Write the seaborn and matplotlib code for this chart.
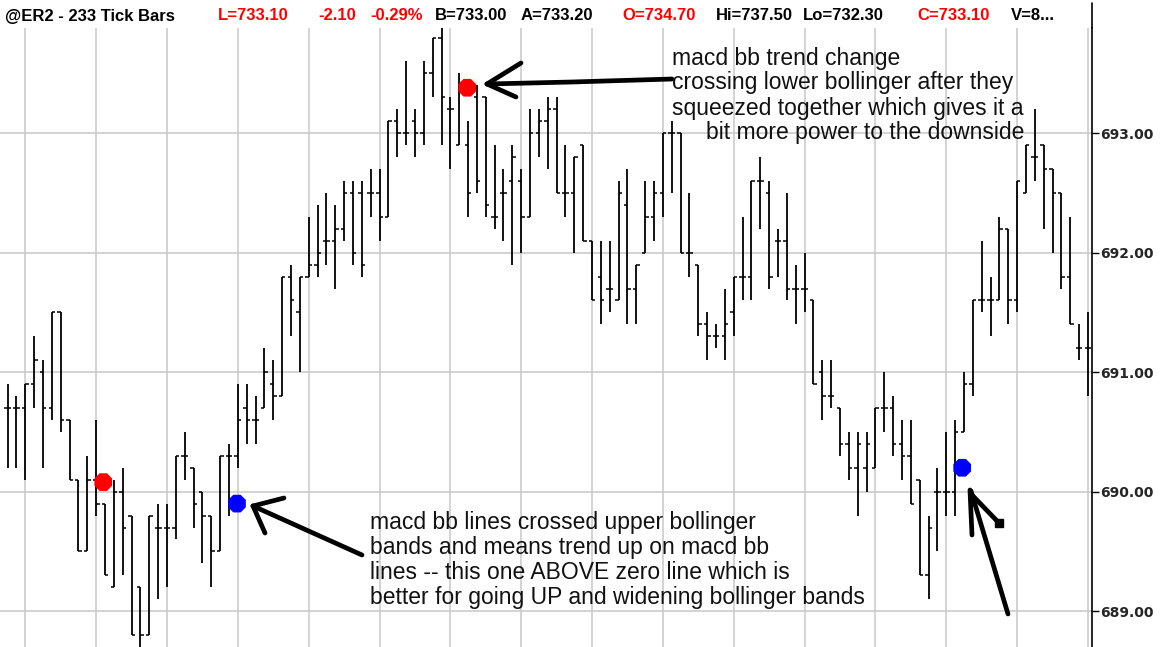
import pandas as pd
import matplotlib.pyplot as plt
import seaborn as sns

# OHLC values, one entry per 233-tick bar
opens = [690.7, 690.7, 690.7, 690.9, 691.0, 690.7, 691.5, 690.6, 690.1, 689.5,
         690.1, 689.9, 689.2, 690.0, 689.8, 689.2, 688.8, 689.7, 689.7, 689.7,
         690.3, 690.2, 690.0, 689.8, 689.5, 690.3, 690.3, 690.7, 690.6, 690.7,
         690.9, 690.8, 691.8, 691.5, 691.8, 691.9, 692.1, 692.1, 692.2, 692.5,
         692.5, 692.5, 692.5, 692.3, 693.1, 693.0, 693.1, 693.0, 693.5, 693.8,
         693.2, 692.9, 692.9, 693.3, 693.3, 692.3, 692.5, 692.6, 692.6, 692.3,
         693.0, 693.1, 693.2, 692.5, 692.5, 692.9, 692.1, 691.8, 691.7, 691.6,
         692.4, 691.7, 692.0, 692.3, 692.5, 693.0, 693.0, 692.0, 691.9, 691.4,
         691.3, 691.3, 691.5, 691.8, 691.8, 692.6, 692.5, 692.1, 692.1, 691.7,
         691.7, 691.6, 691.0, 690.8, 690.7, 690.4, 690.2, 690.2, 690.2, 690.7,
         690.7, 690.4, 690.3, 690.1, 689.3, 690.0, 690.0, 690.0, 690.5, 690.9,
         691.6, 691.6, 691.6, 692.2, 691.6, 692.5, 692.8, 692.9, 692.7, 692.5,
         691.8, 691.2, 691.2]
highs = [690.9, 690.8, 690.9, 691.3, 691.1, 691.5, 691.5, 690.6, 690.1, 690.3,
         690.6, 689.9, 690.1, 690.2, 689.8, 689.2, 689.8, 689.9, 689.9, 690.3,
         690.5, 690.2, 690.0, 689.8, 690.3, 690.4, 690.9, 690.9, 690.8, 691.2,
         691.1, 691.8, 691.9, 691.8, 692.3, 692.4, 692.5, 692.4, 692.6, 692.6,
         692.6, 692.7, 692.7, 693.1, 693.2, 693.6, 693.2, 693.6, 693.8, 693.9,
         693.3, 693.5, 693.1, 693.4, 693.3, 692.9, 692.7, 692.9, 692.7, 693.2,
         693.2, 693.3, 693.3, 692.9, 692.8, 692.9, 692.1, 692.1, 692.1, 692.6,
         692.7, 691.9, 692.6, 692.6, 693.0, 693.1, 693.0, 692.5, 691.9, 691.5,
         691.4, 691.7, 691.8, 692.3, 692.6, 692.8, 692.6, 692.2, 692.5, 691.9,
         692.0, 691.6, 691.1, 691.1, 690.7, 690.5, 690.5, 690.5, 690.7, 691.0,
         690.8, 690.6, 690.6, 690.1, 689.8, 690.2, 690.5, 690.6, 691.0, 691.6,
         692.1, 691.8, 692.3, 692.2, 692.6, 692.9, 693.2, 692.9, 692.7, 692.5,
         692.3, 691.4, 691.5]
lows = [690.2, 690.2, 690.1, 690.7, 690.2, 690.6, 690.5, 690.1, 689.5, 689.5,
        689.8, 689.3, 689.2, 689.3, 688.8, 688.7, 688.8, 689.1, 689.2, 689.6,
        690.1, 689.7, 689.4, 689.2, 689.5, 689.8, 690.2, 690.4, 690.4, 690.7,
        690.6, 690.8, 691.3, 691.0, 691.8, 691.8, 691.9, 691.7, 692.1, 691.9,
        691.8, 692.3, 692.1, 692.3, 692.8, 692.9, 692.8, 692.9, 693.3, 692.9,
        692.7, 692.9, 692.3, 692.5, 692.3, 692.2, 692.1, 691.9, 692.0, 692.3,
        692.8, 692.7, 692.5, 692.3, 692.0, 692.1, 691.6, 691.4, 691.5, 691.6,
        691.4, 691.4, 692.0, 692.1, 692.3, 692.5, 692.0, 691.8, 691.3, 691.1,
        691.2, 691.1, 691.3, 691.6, 691.6, 692.2, 691.7, 691.8, 691.6, 691.4,
        691.5, 690.9, 690.6, 690.7, 690.3, 690.1, 689.8, 690.0, 690.2, 690.5,
        690.3, 690.1, 689.9, 689.3, 689.1, 689.5, 689.8, 689.8, 690.5, 690.8,
        691.5, 691.3, 691.6, 691.4, 691.5, 692.5, 692.6, 692.2, 692.0, 691.7,
        691.4, 691.1, 690.8]
closes = [690.7, 690.7, 690.9, 691.1, 690.7, 691.5, 690.6, 690.1, 689.5, 690.1,
          689.9, 689.3, 690.0, 689.7, 688.8, 688.8, 689.8, 689.7, 689.7, 690.3,
          690.3, 689.9, 689.8, 689.5, 690.3, 690.3, 690.6, 690.6, 690.6, 691.0,
          690.8, 691.8, 691.6, 691.8, 691.9, 692.0, 692.1, 692.2, 692.5, 692.0,
          691.9, 692.5, 692.3, 693.1, 693.0, 693.0, 693.0, 693.5, 693.8, 693.3,
          693.2, 693.4, 692.5, 692.6, 692.4, 692.3, 692.5, 692.8, 692.3, 693.0,
          693.1, 693.2, 692.5, 692.5, 692.8, 692.1, 691.6, 691.6, 691.7, 692.5,
          691.7, 691.9, 692.3, 692.5, 693.0, 693.0, 692.0, 692.0, 691.4, 691.3,
          691.3, 691.4, 691.8, 691.8, 692.6, 692.6, 691.8, 692.1, 691.7, 691.7,
          691.7, 690.9, 690.8, 690.8, 690.4, 690.2, 690.4, 690.4, 690.7, 690.7,
          690.4, 690.3, 689.9, 689.3, 689.7, 690.0, 690.0, 690.5, 690.9, 691.6,
          691.6, 691.6, 692.2, 691.6, 692.6, 692.9, 692.8, 692.7, 692.5, 691.8,
          691.4, 691.2, 691.2]

# macd bb signal dots (bar position, price, kind)
signal_bar = [10.8, 25.9, 51.9, 107.8]
signal_price = [690.08, 689.9, 693.38, 690.2]
signal_kind = ['sell', 'buy', 'sell', 'buy']

price_ticks = [689, 690, 691, 692, 693]

header = [('@ER2 - 233 Tick Bars', 'black', 5),
          ('L=733.10', 'red', 218), ('-2.10', 'red', 318), ('-0.29%', 'red', 370),
          ('B=733.00', 'black', 435), ('A=733.20', 'black', 521),
          ('O=734.70', 'red', 622), ('Hi=737.50', 'black', 716),
          ('Lo=732.30', 'black', 803), ('C=733.10', 'red', 917),
          ('V=8...', 'black', 1011)]

note_up = ['macd bb lines crossed upper bollinger',
           'bands and means trend up on macd bb',
           'lines -- this one ABOVE zero line which is',
           'better for going UP and widening bollinger bands']
note_down = ['macd bb trend change',
             'crossing lower bollinger after they',
             'squeezed together which gives it a',
             'bit more power to the downside']

bars = pd.DataFrame({'open': opens, 'high': highs, 'low': lows, 'close': closes})
bars['bar'] = range(len(bars))
signals = pd.DataFrame({'bar': signal_bar, 'price': signal_price, 'kind': signal_kind})

sns.set_theme(style='white')
plt.rcParams['font.family'] = ['DejaVu Sans']

W, H = 1160, 647
fig = plt.figure(figsize=(W / 100, H / 100), dpi=100)
ax_right = 1092 / W
ax_top = (H - 28) / H
ax = fig.add_axes([0, 0, ax_right, ax_top])

# grid: every 8 bars vertically, every point horizontally
ax.set_xticks(range(2, len(bars), 8))
ax.set_yticks(price_ticks)
ax.grid(True, color='#c8c8c8', lw=1.1)
ax.set_axisbelow(True)

# OHLC bars
ax.vlines(bars['bar'], bars['low'], bars['high'], color='black', lw=1.3)
ax.hlines(bars['open'], bars['bar'] - 0.38, bars['bar'], color='black', lw=1.1)
ax.hlines(bars['close'], bars['bar'], bars['bar'] + 0.38, color='black', lw=1.1)

sns.scatterplot(data=signals, x='bar', y='price', hue='kind',
                palette={'sell': '#ff0000', 'buy': '#0000ff'},
                marker='8', s=190, linewidth=0, legend=False, ax=ax, zorder=5)

ax.set_xlim(-0.86, 122.46)
ax.set_ylim(688.70, 693.88)
ax.set_xlabel('')
ax.set_ylabel('')
for side in ['top', 'left', 'bottom']:
    ax.spines[side].set_visible(False)
ax.spines['right'].set_color('black')
ax.spines['right'].set_linewidth(1.2)
ax.tick_params(axis='x', length=0, labelbottom=False)
ax.tick_params(axis='y', left=False, right=True, labelleft=False, labelright=True,
               direction='out', length=5, width=1, color='black', pad=1)
ax.set_yticklabels([f'{v:.2f}' for v in price_ticks], fontsize=10, fontweight='bold')

# right axis line continues into the header strip
fig.add_artist(plt.Line2D([ax_right, ax_right], [ax_top, 1 - 3 / H], color='black', lw=1.2))


def fx(px):
    return px / W


def fy(py):
    return 1 - py / H


for txt, col, xpx in header:
    fig.text(fx(xpx), fy(16), txt, color=col, fontsize=12, fontweight='bold',
             va='center', ha='left', family=['Liberation Sans', 'DejaVu Sans'])

for i, line in enumerate(note_up):
    fig.text(fx(370), fy(522 + 25.3 * i), line, fontsize=16.5, va='center',
             family=['Liberation Sans', 'DejaVu Sans'], color='#111111')
for i, line in enumerate(note_down):
    xpx = 706 if i == 3 else 672
    fig.text(fx(xpx), fy(58 + 25 * i), line, fontsize=16.5, va='center',
             family=['Liberation Sans', 'DejaVu Sans'], color='#111111')

# hand drawn arrows
strokes = [
    [(487, 84), (572, 82), (672, 79)],
    [(487, 84), (521, 63)],
    [(487, 84), (516, 97)],
    [(253, 506), (362, 555)],
    [(253, 506), (284, 498)],
    [(253, 506), (265, 533)],
    [(971, 491), (1008, 614)],
    [(970, 490), (972, 535)],
    [(972, 495), (999, 523)],
]
for s in strokes:
    xs = [fx(p[0]) for p in s]
    ys = [fy(p[1]) for p in s]
    fig.add_artist(plt.Line2D(xs, ys, color='black', lw=3.4, solid_capstyle='round',
                              solid_joinstyle='round'))
fig.add_artist(plt.Rectangle((fx(995), fy(527)), 8 / W, 8 / H, color='black'))

fig.savefig('out.png', dpi=100, facecolor='white')
